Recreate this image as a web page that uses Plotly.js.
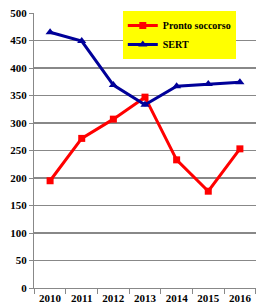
<!DOCTYPE html>
<html>
<head>
<meta charset="utf-8">
<script src="https://cdn.plot.ly/plotly-3.0.1.min.js"></script>
<style>html,body{margin:0;padding:0;background:#fff;}#chart{width:256px;height:306px;}</style>
</head>
<body>
<div id="chart"></div>
<script>
const years = ["2010","2011","2012","2013","2014","2015","2016"];
const prontoSoccorso = [195, 272, 307, 347, 233, 176, 253];
const sert = [465, 449, 369, 333, 367, 371, 374];
const yTicks = [0, 50, 100, 150, 200, 250, 300, 350, 400, 450, 500];

const fam = "Liberation Serif";
function mkFont(sz) { return {family: fam, size: sz, color: "#000000", weight: "bold"}; }

const data = [
  {x: years, y: prontoSoccorso, name: "Pronto soccorso", type: "scatter", mode: "lines+markers",
   line: {color: "#ff0000", width: 3}, marker: {symbol: "square", size: 7, color: "#ff0000"}},
  {x: years, y: sert, name: "SERT", type: "scatter", mode: "lines+markers",
   line: {color: "#000099", width: 3}, marker: {symbol: "triangle-up", size: 8, color: "#000099"}}
];

const layout = {
  width: 256, height: 306,
  margin: {l: 34, r: 0, t: 13, b: 18, pad: 0},
  paper_bgcolor: "#fff", plot_bgcolor: "#fff",
  font: mkFont(11),
  showlegend: true,
  legend: {x: 0.40, y: 1.007, xanchor: "left", yanchor: "top", bgcolor: "#ffff00",
    font: mkFont(10), tracegroupgap: 0, itemwidth: 30},
  xaxis: {type: "category", categoryorder: "array", categoryarray: years,
    showline: true, linecolor: "#888", linewidth: 1, ticks: "outside", ticklen: 5, tickcolor: "#888",
    tickson: "boundaries", showgrid: false, zeroline: false, tickfont: mkFont(11), tickangle: 0,
    automargin: false, fixedrange: true},
  yaxis: {range: [0, 500], tickvals: yTicks, ticktext: yTicks.map(String),
    showline: true, linecolor: "#888", linewidth: 1, ticks: "outside", ticklen: 4, tickcolor: "#888",
    showgrid: true, gridcolor: "#888", gridwidth: 1.5, zeroline: false, tickfont: mkFont(11), fixedrange: true}
};

Plotly.newPlot("chart", data, layout, {displayModeBar: false, staticPlot: true});
</script>
</body>
</html>
